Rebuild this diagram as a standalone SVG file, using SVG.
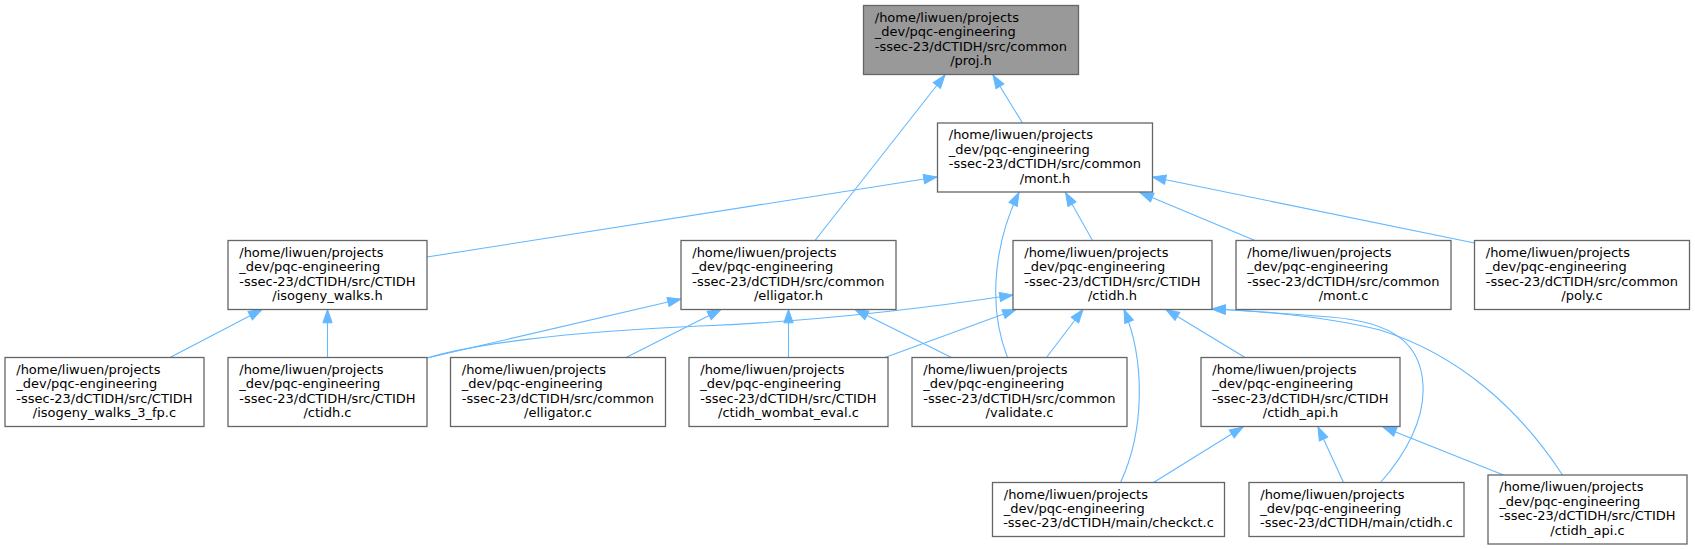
<svg xmlns="http://www.w3.org/2000/svg" width="1695" height="549" viewBox="0 0 1695 549">
<style>
.bg{fill:#ffffff}
.node rect{fill:#ffffff;stroke:#666666;stroke-width:1.3}
.node.root rect{fill:#999999}
.node text{font-family:"DejaVu Sans","Liberation Sans",sans-serif;font-size:13px;fill:#000000}
.node text.c{text-anchor:middle}
.edge{fill:none;stroke:#63b8ff;stroke-width:1.1;marker-end:url(#ah)}
</style>
<defs>
<marker id="ah" markerWidth="14" markerHeight="10" refX="13.3" refY="4.65" orient="auto" markerUnits="userSpaceOnUse" overflow="visible">
<path d="M0,0 L13.3,4.65 L0,9.3 z" fill="#63b8ff" stroke="#63b8ff" stroke-width="1"/>
</marker>
</defs>
<rect class="bg" x="0" y="0" width="1695" height="549"/>
<g id="edges">
<path class="edge" d="M1022.5,123 L993,75"/>
<path class="edge" d="M815,240.5 L945,75"/>
<path class="edge" d="M427,257 L937,177"/>
<path class="edge" d="M1092.5,240.5 L1065.5,192.5"/>
<path class="edge" d="M1007.5,357.5 C985,300 998,235 1019,192.5"/>
<path class="edge" d="M1255,240.5 L1140,192.5"/>
<path class="edge" d="M1474.5,243 L1152.5,177"/>
<path class="edge" d="M170,357.5 L262,309.5"/>
<path class="edge" d="M327.5,357.5 L327.5,309.5"/>
<path class="edge" d="M427,358 L681,299"/>
<path class="edge" d="M427,358 C470,345 560,332 700,326 C800,322 900,312 1013,295"/>
<path class="edge" d="M626,357.5 L721,309.5"/>
<path class="edge" d="M788.5,357.5 L788.5,309.5"/>
<path class="edge" d="M951.5,357.5 L855,309.5"/>
<path class="edge" d="M885,357.5 L1016,309.5"/>
<path class="edge" d="M1046.5,357.5 L1083,309.5"/>
<path class="edge" d="M1120.5,482.5 C1145,430 1145,360 1124,309.5"/>
<path class="edge" d="M1245,357.5 L1166,309.5"/>
<path class="edge" d="M1380.5,482.5 C1405,455 1425,420 1423,385 C1421,345 1395,322 1330,317 C1280,313 1240,310 1212,309"/>
<path class="edge" d="M1562.5,475 C1520,410 1460,355 1380,330 C1320,315 1260,311 1212,309"/>
<path class="edge" d="M1153.5,482.5 L1243,427"/>
<path class="edge" d="M1343.5,482.5 L1318,427"/>
<path class="edge" d="M1503.5,475 L1383,427"/>
</g>
<g id="node-proj-h" class="node root">
<rect x="863.5" y="5.5" width="215" height="69"/>
<text x="874.75" y="21.5">/home/liwuen/projects</text>
<text x="874.75" y="36">_dev/pqc-engineering</text>
<text x="874.75" y="50.5">-ssec-23/dCTIDH/src/common</text>
<text class="c" x="971" y="65">/proj.h</text>
</g>
<g id="node-mont-h" class="node">
<rect x="937.5" y="123" width="215" height="69"/>
<text x="948.75" y="139">/home/liwuen/projects</text>
<text x="948.75" y="153.5">_dev/pqc-engineering</text>
<text x="948.75" y="168">-ssec-23/dCTIDH/src/common</text>
<text class="c" x="1045" y="182.5">/mont.h</text>
</g>
<g id="node-isogeny-walks-h" class="node">
<rect x="228" y="240.5" width="199" height="69"/>
<text x="239.25" y="256.5">/home/liwuen/projects</text>
<text x="239.25" y="271">_dev/pqc-engineering</text>
<text x="239.25" y="285.5">-ssec-23/dCTIDH/src/CTIDH</text>
<text class="c" x="327.5" y="300">/isogeny_walks.h</text>
</g>
<g id="node-elligator-h" class="node">
<rect x="681" y="240.5" width="215" height="69"/>
<text x="692.25" y="256.5">/home/liwuen/projects</text>
<text x="692.25" y="271">_dev/pqc-engineering</text>
<text x="692.25" y="285.5">-ssec-23/dCTIDH/src/common</text>
<text class="c" x="788.5" y="300">/elligator.h</text>
</g>
<g id="node-ctidh-h" class="node">
<rect x="1013" y="240.5" width="199" height="69"/>
<text x="1024.25" y="256.5">/home/liwuen/projects</text>
<text x="1024.25" y="271">_dev/pqc-engineering</text>
<text x="1024.25" y="285.5">-ssec-23/dCTIDH/src/CTIDH</text>
<text class="c" x="1112.5" y="300">/ctidh.h</text>
</g>
<g id="node-mont-c" class="node">
<rect x="1236" y="240.5" width="215" height="69"/>
<text x="1247.25" y="256.5">/home/liwuen/projects</text>
<text x="1247.25" y="271">_dev/pqc-engineering</text>
<text x="1247.25" y="285.5">-ssec-23/dCTIDH/src/common</text>
<text class="c" x="1343.5" y="300">/mont.c</text>
</g>
<g id="node-poly-c" class="node">
<rect x="1474.5" y="240.5" width="215" height="69"/>
<text x="1485.75" y="256.5">/home/liwuen/projects</text>
<text x="1485.75" y="271">_dev/pqc-engineering</text>
<text x="1485.75" y="285.5">-ssec-23/dCTIDH/src/common</text>
<text class="c" x="1582" y="300">/poly.c</text>
</g>
<g id="node-isogeny-walks-3-fp-c" class="node">
<rect x="5" y="357.5" width="199" height="69"/>
<text x="16.25" y="373.5">/home/liwuen/projects</text>
<text x="16.25" y="388">_dev/pqc-engineering</text>
<text x="16.25" y="402.5">-ssec-23/dCTIDH/src/CTIDH</text>
<text class="c" x="104.5" y="417">/isogeny_walks_3_fp.c</text>
</g>
<g id="node-ctidh-c" class="node">
<rect x="228" y="357.5" width="199" height="69"/>
<text x="239.25" y="373.5">/home/liwuen/projects</text>
<text x="239.25" y="388">_dev/pqc-engineering</text>
<text x="239.25" y="402.5">-ssec-23/dCTIDH/src/CTIDH</text>
<text class="c" x="327.5" y="417">/ctidh.c</text>
</g>
<g id="node-elligator-c" class="node">
<rect x="450.5" y="357.5" width="215" height="69"/>
<text x="461.75" y="373.5">/home/liwuen/projects</text>
<text x="461.75" y="388">_dev/pqc-engineering</text>
<text x="461.75" y="402.5">-ssec-23/dCTIDH/src/common</text>
<text class="c" x="558" y="417">/elligator.c</text>
</g>
<g id="node-ctidh-wombat-eval-c" class="node">
<rect x="689" y="357.5" width="199" height="69"/>
<text x="700.25" y="373.5">/home/liwuen/projects</text>
<text x="700.25" y="388">_dev/pqc-engineering</text>
<text x="700.25" y="402.5">-ssec-23/dCTIDH/src/CTIDH</text>
<text class="c" x="788.5" y="417">/ctidh_wombat_eval.c</text>
</g>
<g id="node-validate-c" class="node">
<rect x="912" y="357.5" width="215" height="69"/>
<text x="923.25" y="373.5">/home/liwuen/projects</text>
<text x="923.25" y="388">_dev/pqc-engineering</text>
<text x="923.25" y="402.5">-ssec-23/dCTIDH/src/common</text>
<text class="c" x="1019.5" y="417">/validate.c</text>
</g>
<g id="node-ctidh-api-h" class="node">
<rect x="1201" y="357.5" width="199" height="69"/>
<text x="1212.25" y="373.5">/home/liwuen/projects</text>
<text x="1212.25" y="388">_dev/pqc-engineering</text>
<text x="1212.25" y="402.5">-ssec-23/dCTIDH/src/CTIDH</text>
<text class="c" x="1300.5" y="417">/ctidh_api.h</text>
</g>
<g id="node-checkct-c" class="node">
<rect x="992.5" y="482.5" width="232" height="54"/>
<text x="1003.75" y="498.5">/home/liwuen/projects</text>
<text x="1003.75" y="513">_dev/pqc-engineering</text>
<text class="c" x="1108.5" y="527">-ssec-23/dCTIDH/main/checkct.c</text>
</g>
<g id="node-main-ctidh-c" class="node">
<rect x="1249" y="482.5" width="215" height="54"/>
<text x="1260.25" y="498.5">/home/liwuen/projects</text>
<text x="1260.25" y="513">_dev/pqc-engineering</text>
<text class="c" x="1356.5" y="527">-ssec-23/dCTIDH/main/ctidh.c</text>
</g>
<g id="node-ctidh-api-c" class="node">
<rect x="1488" y="475" width="199" height="69"/>
<text x="1499.25" y="491">/home/liwuen/projects</text>
<text x="1499.25" y="505.5">_dev/pqc-engineering</text>
<text x="1499.25" y="520">-ssec-23/dCTIDH/src/CTIDH</text>
<text class="c" x="1587.5" y="534.5">/ctidh_api.c</text>
</g>
</svg>
